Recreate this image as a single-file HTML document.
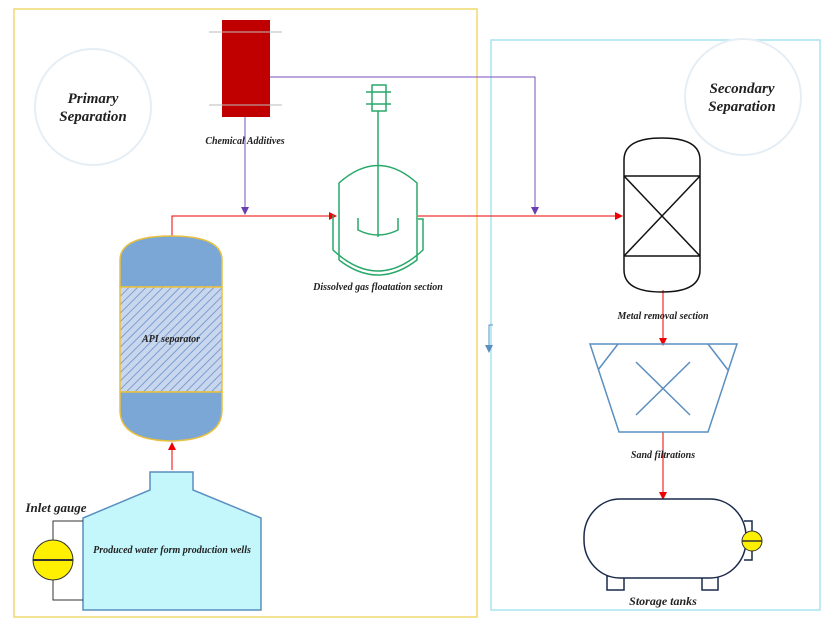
<!DOCTYPE html>
<html><head><style>body{margin:0;background:#fff}svg{display:block}text{font-family:"Liberation Serif",serif;font-style:italic;font-weight:bold;fill:#222}</style></head><body>
<svg width="839" height="628" viewBox="0 0 839 628" xmlns="http://www.w3.org/2000/svg">
<defs>
<pattern id="h" width="6" height="6" patternUnits="userSpaceOnUse" patternTransform="rotate(45)"><rect width="6" height="6" fill="#c9d7ee"/><line x1="0" y1="0" x2="0" y2="6" stroke="#7b9fd1" stroke-width="2"/></pattern>
<marker id="ar" markerWidth="8" markerHeight="8" refX="7" refY="4" orient="auto" markerUnits="userSpaceOnUse"><path d="M0,0L8,4L0,8z" fill="#e00"/></marker>
<marker id="ap" markerWidth="8" markerHeight="8" refX="7" refY="4" orient="auto" markerUnits="userSpaceOnUse"><path d="M0,0L8,4L0,8z" fill="#6a3fb0"/></marker>
<marker id="ab" markerWidth="8" markerHeight="8" refX="7" refY="4" orient="auto" markerUnits="userSpaceOnUse"><path d="M0,0L8,4L0,8z" fill="#5a8fc0"/></marker>
</defs>
<rect x="14" y="9" width="463" height="608" fill="none" stroke="#f0d870" stroke-width="1.5"/>
<rect x="491" y="40" width="329" height="570" fill="none" stroke="#a8e4f0" stroke-width="1.5"/>
<circle cx="93" cy="107" r="58" fill="#fff" stroke="#e6eef5" stroke-width="2"/>
<text x="93" y="103" font-size="15" text-anchor="middle">Primary</text>
<text x="93" y="121" font-size="15" text-anchor="middle">Separation</text>
<circle cx="743" cy="97" r="58" fill="#fff" stroke="#e6eef5" stroke-width="2"/>
<text x="742" y="93" font-size="15" text-anchor="middle">Secondary</text>
<text x="742" y="111" font-size="15" text-anchor="middle">Separation</text>
<rect x="222" y="20" width="48" height="97" fill="#c00000"/>
<line x1="209" y1="32" x2="282" y2="32" stroke="#bbb"/><line x1="209" y1="105" x2="282" y2="105" stroke="#bbb"/>
<text x="245" y="144" font-size="10" text-anchor="middle">Chemical Additives</text>
<path d="M245,117V214" stroke="#7b4fc0" fill="none" marker-end="url(#ap)"/>
<path d="M270,77H535V214" stroke="#7b4fc0" fill="none" marker-end="url(#ap)"/>
<path d="M172,238V216H336" stroke="#e00" fill="none" marker-end="url(#ar)"/>
<path d="M418,216H622" stroke="#e00" fill="none" marker-end="url(#ar)"/>
<path d="M172,470V443" stroke="#e00" fill="none" marker-end="url(#ar)"/>
<path d="M663,290V345" stroke="#e00" fill="none" marker-end="url(#ar)"/>
<path d="M663,432V499" stroke="#e00" fill="none" marker-end="url(#ar)"/>
<path d="M493,325H489V352" stroke="#5a8fc0" fill="none" marker-end="url(#ab)"/>
<g stroke="#2aa86a" stroke-width="1.5" fill="none">
<rect x="372" y="85" width="14" height="26"/><line x1="366" y1="92" x2="391" y2="92"/><line x1="366" y1="104" x2="391" y2="104"/>
<line x1="378" y1="111" x2="378" y2="237"/>
<path d="M339,260V183Q378,148 417,183V260Q378,290 339,260"/>
<path d="M333,215V250Q378,292 423,250V219H418"/>
<path d="M358,218V230Q378,240 398,230V218"/>
</g>
<text x="378" y="290" font-size="10" text-anchor="middle">Dissolved gas floatation section</text>
<path d="M120,287V260Q120,236 171,236Q222,236 222,260V287Z" fill="#7aa7d6" stroke="#e8c040" stroke-width="1.5"/>
<rect x="120" y="287" width="102" height="105" fill="url(#h)" stroke="#e8c040" stroke-width="1.5"/>
<path d="M120,392H222V410Q222,440 171,441Q120,440 120,410Z" fill="#7aa7d6" stroke="#e8c040" stroke-width="1.5"/>
<text x="171" y="342" font-size="10" text-anchor="middle">API separator</text>
<path d="M150,490V472H193V490L261,518V610H83V518Z" fill="#c4f7fb" stroke="#5a8fc0" stroke-width="1.5"/>
<text x="172" y="553" font-size="10" text-anchor="middle">Produced water form production wells</text>
<path d="M83,521H53V600H83" stroke="#333" fill="none"/>
<circle cx="53" cy="560" r="20" fill="#ffef00" stroke="#333"/>
<line x1="33" y1="560" x2="73" y2="560" stroke="#333" stroke-width="2"/>
<text x="56" y="512" font-size="13" text-anchor="middle">Inlet gauge</text>
<g stroke="#111" stroke-width="1.5" fill="none">
<path d="M624,176V160Q624,138 662,138Q700,138 700,160V176H624V256H700V176M624,256V270Q624,292 662,292Q700,292 700,270V256"/>
<line x1="624" y1="176" x2="700" y2="256"/><line x1="700" y1="176" x2="624" y2="256"/>
</g>
<text x="663" y="319" font-size="10" text-anchor="middle">Metal removal section</text>
<g stroke="#5a8fc0" stroke-width="1.5" fill="none">
<path d="M590,344H737L708,432H619Z"/>
<path d="M618,344L598,370M708,344L728,370"/>
<line x1="636" y1="362" x2="690" y2="415"/><line x1="690" y1="362" x2="636" y2="415"/>
</g>
<text x="663" y="458" font-size="10" text-anchor="middle">Sand filtrations</text>
<g stroke="#1a2a4a" stroke-width="1.5" fill="#fff">
<rect x="607" y="576" width="17" height="14"/><rect x="702" y="576" width="16" height="14"/>
<rect x="584" y="499" width="162" height="79" rx="36" ry="38"/>
<path d="M744,521H752V560H744" fill="none"/>
</g>
<circle cx="752" cy="541" r="10" fill="#ffef00" stroke="#333"/>
<line x1="742" y1="541" x2="762" y2="541" stroke="#333" stroke-width="1.5"/>
<text x="663" y="605" font-size="12" text-anchor="middle">Storage tanks</text>
</svg>
</body></html>
